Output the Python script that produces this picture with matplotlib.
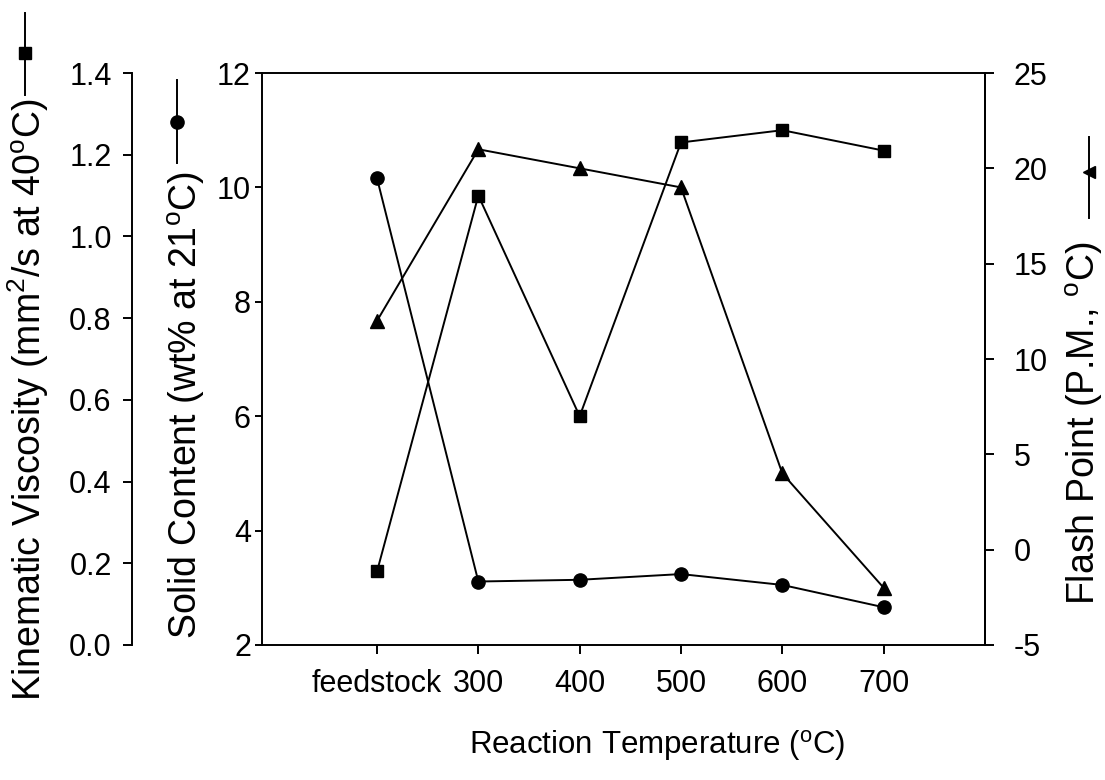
import matplotlib
matplotlib.use('Agg')
import matplotlib.pyplot as plt
from matplotlib.lines import Line2D

plt.rcParams['font.family'] = ['Liberation Sans', 'DejaVu Sans']
plt.rcParams['mathtext.fontset'] = 'custom'
plt.rcParams['mathtext.rm'] = 'Liberation Sans'
plt.rcParams['axes.unicode_minus'] = False

# data
temps = ['feedstock', '300', '400', '500', '600', '700']
viscosity = [0.18, 1.10, 0.56, 1.23, 1.26, 1.21]   # mm2/s at 40 C
solid = [10.16, 3.11, 3.14, 3.24, 3.05, 2.66]      # wt% at 21 C
flash = [12, 21, 20, 19, 4, -2]                    # P.M., C

W, H = 1105, 780
fig = plt.figure(figsize=(W / 100, H / 100), dpi=100)
ax = fig.add_axes([262 / W, 135 / H, 723 / W, 572 / H])
x = list(range(len(temps)))

lw = 1.4
tick_kw = dict(direction='out', length=6.5, width=lw, labelsize=22, pad=8)

# solid content (main axis)
ax.plot(x, solid, color='k', lw=lw, marker='o', ms=9.5)
ax.set_ylim(2, 12)
ax.set_yticks([2, 4, 6, 8, 10, 12])
ax.set_xlim(-1.135, 6.0)
ax.set_xticks(x)
ax.set_xticklabels(temps, fontsize=24)
ax.tick_params(axis='x', **dict(tick_kw, pad=11))
ax.tick_params(axis='y', **dict(tick_kw, length=5, pad=3))
ax.tick_params(axis='y', right=False)
for s in ax.spines.values():
    s.set_linewidth(lw)

# viscosity (outer left axis)
axv = ax.twinx()
axv.plot(x, viscosity, color='k', lw=lw, marker='s', ms=8.5)
axv.set_ylim(0, 1.4)
axv.set_yticks([0.0, 0.2, 0.4, 0.6, 0.8, 1.0, 1.2, 1.4])
axv.set_yticklabels(['%.1f' % v for v in axv.get_yticks()])
axv.spines['left'].set_position(('axes', -0.18))
axv.spines['left'].set_visible(True)
axv.spines['left'].set_linewidth(lw)
for s in ['right', 'top', 'bottom']:
    axv.spines[s].set_visible(False)
axv.yaxis.set_ticks_position('left')
axv.tick_params(axis='y', **tick_kw)

# flash point (right axis)
axf = ax.twinx()
axf.plot(x, flash, color='k', lw=lw, marker='^', ms=10)
axf.set_ylim(-5, 25)
axf.set_yticks([-5, 0, 5, 10, 15, 20, 25])
axf.spines['right'].set_linewidth(lw)
for s in ['left', 'top', 'bottom']:
    axf.spines[s].set_visible(False)
axf.tick_params(axis='y', **dict(tick_kw, pad=14))

# axis titles as figure text
lab = dict(rotation=90, ha='center', va='center', fontsize=27)
fig.text(28 / W, 1 - 400 / H, 'Kinematic Viscosity (mm$^2$/s at 40$^\\mathregular{o}$C)', **lab)
fig.text(186 / W, 1 - 405 / H, 'Solid Content (wt% at 21$^\\mathregular{o}$C)', **lab)
fig.text(1084 / W, 1 - 423 / H, 'Flash Point (P.M., $^\\mathregular{o}$C)', **lab)
fig.text(657 / W, 1 - 745 / H, 'Reaction Temperature ($^\\mathregular{o}$C)',
         ha='center', va='center', fontsize=22.5)


# little key symbols next to the axis titles
def key(px, y0, y1, ym, mk, ms):
    fig.add_artist(Line2D([px / W, px / W], [1 - y0 / H, 1 - y1 / H], color='k', lw=lw,
                          transform=fig.transFigure))
    fig.add_artist(Line2D([px / W], [1 - ym / H], color='k', marker=mk, ms=ms,
                          transform=fig.transFigure))


key(25, 13, 95, 53, 's', 8.5)
key(177, 80, 163, 122, 'o', 9.5)
key(1089, 137, 218, 172, '<', 9)

plt.savefig('out.png', dpi=100)
plt.close()
